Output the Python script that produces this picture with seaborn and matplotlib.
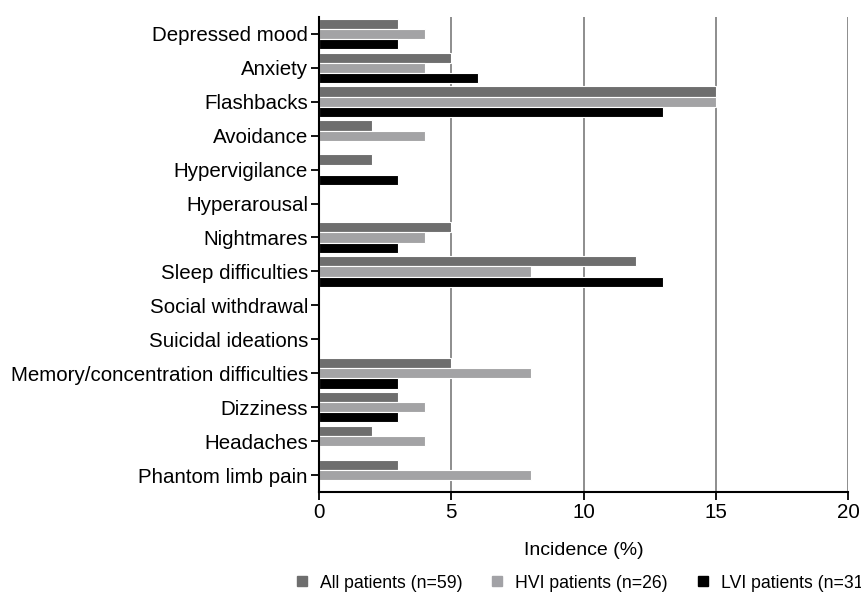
import pandas as pd
import seaborn as sns
import matplotlib.pyplot as plt
from matplotlib.lines import Line2D

symptoms = ['Depressed mood', 'Anxiety', 'Flashbacks', 'Avoidance', 'Hypervigilance',
            'Hyperarousal', 'Nightmares', 'Sleep difficulties', 'Social withdrawal',
            'Suicidal ideations', 'Memory/concentration difficulties', 'Dizziness',
            'Headaches', 'Phantom limb pain']
all_patients = [3, 5, 15, 2, 2, 0, 5, 12, 0, 0, 5, 3, 2, 3]
hvi_patients = [4, 4, 15, 4, 0, 0, 4, 8, 0, 0, 8, 4, 4, 8]
lvi_patients = [3, 6, 13, 0, 3, 0, 3, 13, 0, 0, 3, 3, 0, 0]
groups = ['All patients (n=59)', 'HVI patients (n=26)', 'LVI patients (n=31)']
colors = ['#6e6e6e', '#a2a2a6', '#000000']

rows = []
for g, vals in zip(groups, [all_patients, hvi_patients, lvi_patients]):
    for s, v in zip(symptoms, vals):
        rows.append({'symptom': s, 'group': g, 'incidence': v})
df = pd.DataFrame(rows)

sns.set_style('white')
plt.rcParams['font.family'] = ['Liberation Sans', 'DejaVu Sans']
plt.rcParams['text.color'] = 'black'
plt.rcParams['axes.labelcolor'] = 'black'
plt.rcParams['xtick.color'] = 'black'
plt.rcParams['ytick.color'] = 'black'

fig = plt.figure(figsize=(8.61, 6.03), dpi=100)
ax = fig.add_axes([0.3705, 0.184, 0.6145, 0.788])

sns.barplot(data=df, y='symptom', x='incidence', hue='group', order=symptoms,
            hue_order=groups, palette=colors, orient='h', width=0.9,
            edgecolor='white', linewidth=0.8, ax=ax, legend=False)

ax.set_xlim(0, 20)
ax.set_ylim(13.5, -0.5)
ax.set_xticks([0, 5, 10, 15, 20])
for xv in [5, 10, 15, 20]:
    ax.axvline(xv, color='#7a7a7a', lw=1.2, zorder=0)
ax.set_axisbelow(True)

for side in ['top', 'right']:
    ax.spines[side].set_visible(False)
for side in ['left', 'bottom']:
    ax.spines[side].set_color('black')
    ax.spines[side].set_linewidth(1.5)

ax.tick_params(axis='both', which='major', labelsize=14.8, length=6, width=1.3,
               color='black', labelcolor='black', left=True, bottom=True, pad=2)
ax.set_ylabel('')
ax.set_xlabel('Incidence (%)', fontsize=14, labelpad=14)

# legend sits below the plot, running up to the right edge as in the original
handles = [Line2D([0], [0], marker='s', color='none', markerfacecolor=c,
                  markeredgecolor=c, markersize=7) for c in colors]
fig.legend(handles, groups, loc='center left', bbox_to_anchor=(0.322, 0.033),
           ncol=3, frameon=False, fontsize=12.7, handlelength=1.0,
           handletextpad=0.5, columnspacing=1.5)

fig.savefig('out.png', dpi=100)
